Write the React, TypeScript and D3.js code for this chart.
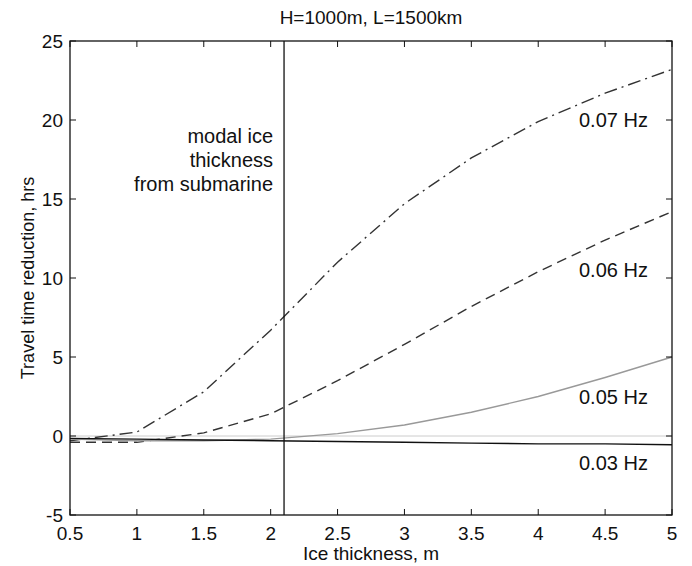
import { useEffect, useRef } from 'react';
import * as d3 from 'd3';

// ice thickness, m
const thickness = [0.5, 1, 1.5, 2, 2.5, 3, 3.5, 4, 4.5, 5];

// travel time reduction, hrs
const hz007 = [-0.3, 0.25, 2.8, 6.7, 11.0, 14.7, 17.6, 19.9, 21.7, 23.2];
const hz006 = [-0.4, -0.4, 0.2, 1.4, 3.5, 5.8, 8.2, 10.4, 12.4, 14.2];
const hz005 = [-0.2, -0.3, -0.3, -0.2, 0.15, 0.7, 1.5, 2.5, 3.7, 5.0];
const hz003 = [-0.15, -0.2, -0.25, -0.3, -0.35, -0.4, -0.45, -0.5, -0.5, -0.55];

const xTicks = [0.5, 1, 1.5, 2, 2.5, 3, 3.5, 4, 4.5, 5];
const yTicks = [-5, 0, 5, 10, 15, 20, 25];

const modalThickness = 2.1;
const noteLines = ['modal ice', 'thickness', 'from submarine'];

const series = [
  { name: '0.07 Hz', values: hz007, color: '#333', dash: '13,5,2,5', labelY: 20 },
  { name: '0.06 Hz', values: hz006, color: '#333', dash: '10,6', labelY: 10.5 },
  { name: '0.05 Hz', values: hz005, color: '#999', dash: null, labelY: 2.5 },
  { name: '0.03 Hz', values: hz003, color: '#111', dash: null, labelY: -1.7 },
];

const W = 692, H = 566;
const margin = { top: 41, right: 20, bottom: 51, left: 70 };
const font = '"Liberation Sans", Arial, sans-serif';

const App = () => {
  const ref = useRef<SVGSVGElement>(null);

  useEffect(() => {
    const svg = d3.select(ref.current);
    svg.selectAll('*').remove();

    const x = d3.scaleLinear().domain([0.5, 5]).range([margin.left, W - margin.right]);
    const y = d3.scaleLinear().domain([-5, 25]).range([H - margin.bottom, margin.top]);
    const [x0, x1] = x.range();
    const [y0, y1] = y.range();

    // title
    svg.append('text').attr('x', (x0 + x1) / 2).attr('y', 24)
      .attr('text-anchor', 'middle').attr('font-size', 19).text('H=1000m, L=1500km');

    // zero line
    svg.append('line').attr('x1', x0).attr('x2', x1).attr('y1', y(0)).attr('y2', y(0))
      .attr('stroke', '#ccc').attr('stroke-width', 1);

    const line = d3.line<number>()
      .x((_, i) => x(thickness[i]))
      .y(d => y(d));

    series.forEach(s => {
      svg.append('path').datum(s.values)
        .attr('d', line)
        .attr('fill', 'none')
        .attr('stroke', s.color)
        .attr('stroke-width', 1.4)
        .attr('stroke-dasharray', s.dash);
      svg.append('text').attr('x', x(4.82)).attr('y', y(s.labelY) + 7)
        .attr('text-anchor', 'end').attr('font-size', 20).text(s.name);
    });

    // modal ice thickness marker
    svg.append('line').attr('x1', x(modalThickness)).attr('x2', x(modalThickness))
      .attr('y1', y0).attr('y2', y1).attr('stroke', '#111').attr('stroke-width', 1.3);
    svg.append('text').attr('text-anchor', 'end').attr('font-size', 20)
      .selectAll('tspan').data(noteLines).enter().append('tspan')
      .attr('x', x(modalThickness) - 11)
      .attr('y', (_, i) => 143 + i * 24)
      .text(d => d);

    // box + ticks
    svg.append('rect').attr('x', x0).attr('y', y1).attr('width', x1 - x0).attr('height', y0 - y1)
      .attr('fill', 'none').attr('stroke', '#111').attr('stroke-width', 1.3);
    const tk = 6;
    xTicks.forEach(t => {
      svg.append('line').attr('x1', x(t)).attr('x2', x(t)).attr('y1', y0).attr('y2', y0 - tk)
        .attr('stroke', '#111');
      svg.append('line').attr('x1', x(t)).attr('x2', x(t)).attr('y1', y1).attr('y2', y1 + tk)
        .attr('stroke', '#111');
      svg.append('text').attr('x', x(t)).attr('y', y0 + 25)
        .attr('text-anchor', 'middle').attr('font-size', 19).text(String(t));
    });
    yTicks.forEach(t => {
      svg.append('line').attr('x1', x0).attr('x2', x0 + tk).attr('y1', y(t)).attr('y2', y(t))
        .attr('stroke', '#111');
      svg.append('line').attr('x1', x1).attr('x2', x1 - tk).attr('y1', y(t)).attr('y2', y(t))
        .attr('stroke', '#111');
      svg.append('text').attr('x', x0 - 7).attr('y', y(t) + 7)
        .attr('text-anchor', 'end').attr('font-size', 19).text(String(t));
    });

    // axis titles
    svg.append('text').attr('x', (x0 + x1) / 2).attr('y', 560)
      .attr('text-anchor', 'middle').attr('font-size', 19).text('Ice thickness, m');
    svg.append('text')
      .attr('transform', `translate(34,${(y0 + y1) / 2}) rotate(-90)`)
      .attr('text-anchor', 'middle').attr('font-size', 18).text('Travel time reduction, hrs');
  }, []);

  return (
    <div style={{ position: 'absolute', left: 0, top: 0 }}>
      <svg ref={ref} width={W} height={H} fontFamily={font} fill="#111"
        style={{ display: 'block', background: '#fff' }} />
    </div>
  );
};

export default App;
